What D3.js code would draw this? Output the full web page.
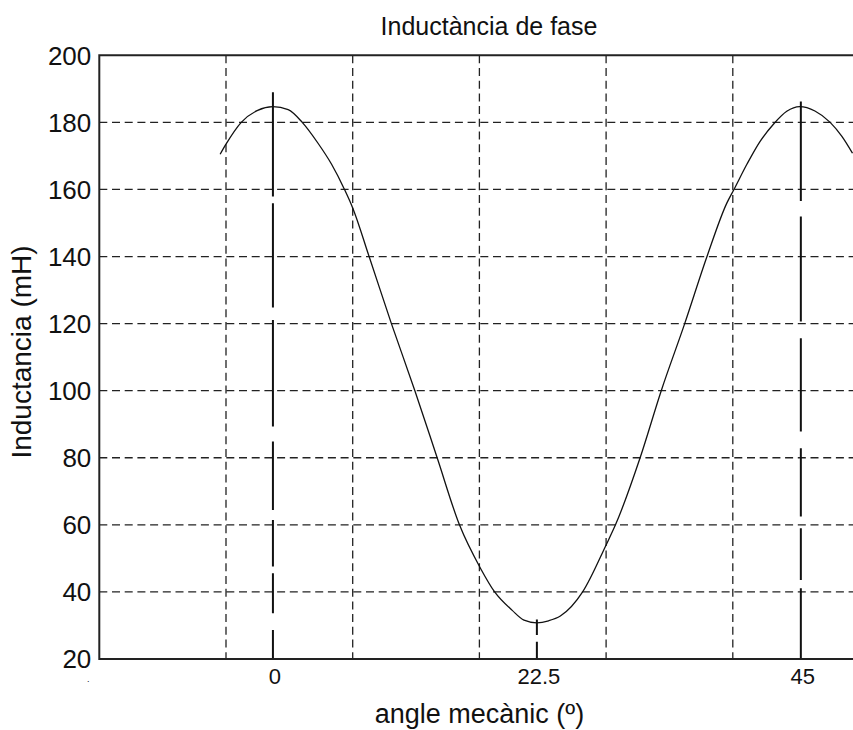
<!DOCTYPE html>
<html>
<head>
<meta charset="utf-8">
<title>Inductància de fase</title>
<script src="https://cdn.jsdelivr.net/npm/d3@7"></script>
<style>
    body { margin: 0; background: #fff; }
    text { font-family: "Liberation Sans", Arial, sans-serif; fill: #111; }
</style>
</head>
<body>
<div id="chart"></div>
<script>
/*jslint browser: true*/

// angle (mechanical degrees) and inductance (mH)
var angle = [-4.5, -4.0, -2.7, -1.3, 0, 1.3, 2.5, 3.8, 5.0, 6.1, 6.8, 8.2, 10.1, 12.1,
    14.0, 15.9, 17.7, 18.9, 20.4, 21.4, 22.5, 23.5, 24.5, 26.4, 28.4, 29.2, 31.3, 33.1,
    35.1, 37.0, 38.7, 39.3, 40.4, 41.5, 42.7, 43.8, 44.9, 46.2, 47.5, 48.5, 49.4];
var inductance = [170.5, 173.5, 180, 183.6, 184.7, 183.8, 180, 174, 167.5, 160, 154.5, 140, 120, 100,
    80, 60, 47, 40, 34.5, 31.6, 30.8, 31.4, 32.8, 40, 54, 60, 80, 100,
    120, 140, 156, 160, 167.5, 174.2, 179.6, 183.3, 184.7, 183.4, 180, 175.8, 170.8];

// marker lines at the aligned/unaligned positions
var markAngle = [0, 22.5, 45];
var markTop = [189, 31.8, 186.2];
var markLabel = ['0', '22.5', '45'];

// axis ranges and grid ticks
var xDomain = [-14.8, 50];
var yDomain = [20, 200];
var xGrid = [-4, 6.8, 17.6, 28.4, 39.2];
var yTicks = [20, 40, 60, 80, 100, 120, 140, 160, 180, 200];

(function (d3) {
    'use strict';

    var width = 853, height = 730;
    var left = 99.3, right = 859.5, top = 55.3, bottom = 659;

    // dash patterns of the marker lines, top to bottom
    var markDash = [
        '104.4,6.6,104.4,12.3,106.7,15,68.3,10,46.7,6.6,40,16.7,40',
        '15.7,6.7,30',
        '99.3,15.7,105,16.6,93.4,16.6,68.4,11.6,51.7,8.3,80'
    ];

    var x = d3.scaleLinear().domain(xDomain).range([left, right]);
    var y = d3.scaleLinear().domain(yDomain).range([bottom, top]);

    var svg = d3.select('#chart').append('svg')
        .attr('width', width)
        .attr('height', height);

    svg.append('rect')
        .attr('width', width)
        .attr('height', height)
        .style('fill', '#fff');

    // grid
    svg.append('g').selectAll('line')
        .data(yTicks.slice(1, -1))
        .enter().append('line')
        .attr('x1', left).attr('x2', right)
        .attr('y1', function (d) { return y(d); })
        .attr('y2', function (d) { return y(d); })
        .style('stroke', '#222')
        .style('stroke-width', 1.3)
        .style('stroke-dasharray', '8,4.7');

    svg.append('g').selectAll('line')
        .data(xGrid)
        .enter().append('line')
        .attr('x1', function (d) { return x(d); })
        .attr('x2', function (d) { return x(d); })
        .attr('y1', top).attr('y2', bottom)
        .style('stroke', '#222')
        .style('stroke-width', 1.3)
        .style('stroke-dasharray', '8,4.7');

    // marker lines
    svg.append('g').selectAll('line')
        .data(markAngle)
        .enter().append('line')
        .attr('x1', function (d) { return x(d); })
        .attr('x2', function (d) { return x(d); })
        .attr('y1', function (d, i) { return y(markTop[i]); })
        .attr('y2', bottom)
        .style('stroke', '#111')
        .style('stroke-width', 2)
        .style('stroke-dasharray', function (d, i) { return markDash[i]; });

    // curve
    var line = d3.line()
        .x(function (d) { return x(d[0]); })
        .y(function (d) { return y(d[1]); })
        .curve(d3.curveMonotoneX);

    svg.append('path')
        .datum(d3.zip(angle, inductance))
        .attr('d', line)
        .style('fill', 'none')
        .style('stroke', '#111')
        .style('stroke-width', 1.3);

    // axes box
    svg.append('path')
        .attr('d', 'M' + right + ',' + top + 'H' + left + 'V' + bottom + 'H' + right)
        .style('fill', 'none')
        .style('stroke', '#222')
        .style('stroke-width', 2);

    // y tick labels
    svg.append('g').selectAll('text')
        .data(yTicks)
        .enter().append('text')
        .attr('x', left - 8)
        .attr('y', function (d) { return y(d); })
        .attr('dy', '0.36em')
        .attr('text-anchor', 'end')
        .style('font-size', '26px')
        .text(function (d) { return d; });

    // x tick labels
    svg.append('g').selectAll('text')
        .data(markAngle)
        .enter().append('text')
        .attr('x', function (d) { return x(d) + 2; })
        .attr('y', bottom + 25)
        .attr('text-anchor', 'middle')
        .style('font-size', '22px')
        .text(function (d, i) { return markLabel[i]; });

    svg.append('text')
        .attr('x', left - 11)
        .attr('y', bottom + 23)
        .attr('text-anchor', 'middle')
        .style('font-size', '9px')
        .text('.');

    // titles
    svg.append('text')
        .attr('x', 489)
        .attr('y', 35)
        .attr('text-anchor', 'middle')
        .style('font-size', '25px')
        .text('Inductància de fase');

    svg.append('text')
        .attr('x', (left + right) / 2)
        .attr('y', 723)
        .attr('text-anchor', 'middle')
        .style('font-size', '27px')
        .text('angle mecànic (º)');

    svg.append('text')
        .attr('transform', 'translate(31,352) rotate(-90)')
        .attr('text-anchor', 'middle')
        .style('font-size', '28px')
        .text('Inductancia (mH)');

}(window.d3));
</script>
</body>
</html>
